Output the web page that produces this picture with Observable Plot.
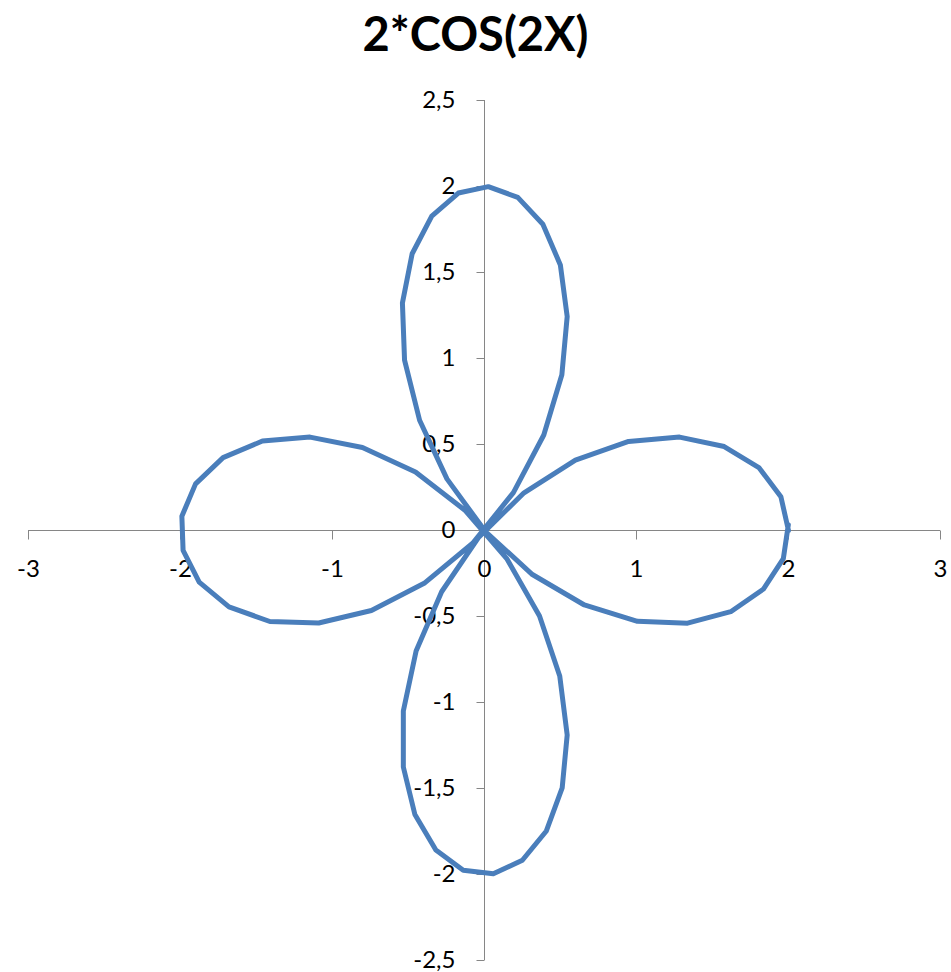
<!DOCTYPE html>
<html>
<head>
<meta charset="utf-8">
<script src="https://cdn.jsdelivr.net/npm/d3@7"></script>
<script src="https://cdn.jsdelivr.net/npm/@observablehq/plot@0.6"></script>
<style>
  html, body { margin: 0; padding: 0; background: #fff; }
  #title { height: 80px; box-sizing: border-box; padding-top: 10px; text-align: center;
           font-family: Lato, "Open Sans", sans-serif; font-weight: bold; font-size: 47px; line-height: 47px; color: #000; }
  #chart svg { display: block; }
</style>
</head>
<body>
<div id="title">2*COS(2X)</div>
<div id="chart"></div>
<script>
// Points (x, y), in drawing order
const xs = [2.00, 1.95, 1.805, 1.577, 1.283, 0.948, 0.598, 0.260, -0.041, -0.282,
  -0.450, -0.534, -0.534, -0.458, -0.320, -0.140, 0.058, 0.249, 0.407, 0.511,
  0.544, 0.495, 0.362, 0.149, -0.129, -0.454, -0.803, -1.148, -1.461, -1.720,
  -1.901, -1.991, -1.983, -1.877, -1.681, -1.412, -1.091, -0.744, -0.397, -0.078,
  0.190, 0.390, 0.509, 0.544, 0.499, 0.384, 0.219, 0.025, -0.172, -0.347,
  -0.476, -0.540, -0.526, -0.427, -0.247, 0.006, 0.315, 0.657, 1.006, 1.336,
  1.620, 1.836, 1.966, 1.999];
const ys = [0.00, 0.196, 0.366, 0.488, 0.543, 0.518, 0.409, 0.219, -0.042, -0.356,
  -0.700, -1.049, -1.375, -1.651, -1.857, -1.975, -1.996, -1.917, -1.747, -1.497,
  -1.189, -0.846, -0.497, -0.167, 0.118, 0.340, 0.483, 0.543, 0.520, 0.424,
  0.271, 0.083, -0.116, -0.300, -0.444, -0.529, -0.538, -0.465, -0.307, -0.074,
  0.220, 0.555, 0.905, 1.244, 1.544, 1.781, 1.937, 1.999, 1.962, 1.828,
  1.609, 1.323, 0.991, 0.641, 0.300, -0.006, -0.256, -0.433, -0.528, -0.539,
  -0.472, -0.340, -0.164, 0.034];
const xTicks = [-3, -2, -1, 0, 1, 2, 3];
const yTicks = [2.5, 2, 1.5, 1, 0.5, 0, -0.5, -1, -1.5, -2, -2.5];

const points = xs.map((x, i) => ({x, y: ys[i]}));
const fmt = d => String(d).replace(".", ",");
const axisColor = "#868686";
const tickDown = {draw(ctx) { ctx.moveTo(0, 0); ctx.lineTo(0, 9); }};
const tickLeft = {draw(ctx) { ctx.moveTo(0, 0); ctx.lineTo(-8, 0); }};

const chart = Plot.plot({
  width: 951,
  height: 892,
  marginTop: 20,
  marginBottom: 12,
  marginLeft: 28,
  marginRight: 11,
  style: {fontFamily: "Lato, 'Open Sans', sans-serif", background: "#fff"},
  x: {domain: [-3, 3], axis: null},
  y: {domain: [-2.5, 2.5], axis: null},
  marks: [
    Plot.ruleY([0], {stroke: axisColor, strokeWidth: 1}),
    Plot.ruleX([0], {stroke: axisColor, strokeWidth: 1}),
    Plot.dot(xTicks, {x: d => d, y: 0, symbol: tickDown, fill: "none", stroke: axisColor, strokeWidth: 1}),
    Plot.dot(yTicks, {x: 0, y: d => d, symbol: tickLeft, fill: "none", stroke: axisColor, strokeWidth: 1}),
    Plot.text(xTicks, {x: d => d, y: 0, text: fmt, dy: 39, fontSize: 24, fill: "#000"}),
    Plot.text(yTicks, {x: 0, y: d => d, text: fmt, dx: -29, textAnchor: "end", fontSize: 24, fill: "#000"}),
    Plot.line(points, {x: "x", y: "y", stroke: "#4A7EBB", strokeWidth: 5, strokeLinejoin: "round", strokeLinecap: "round"})
  ]
});
document.getElementById("chart").appendChild(chart);
</script>
</body>
</html>
